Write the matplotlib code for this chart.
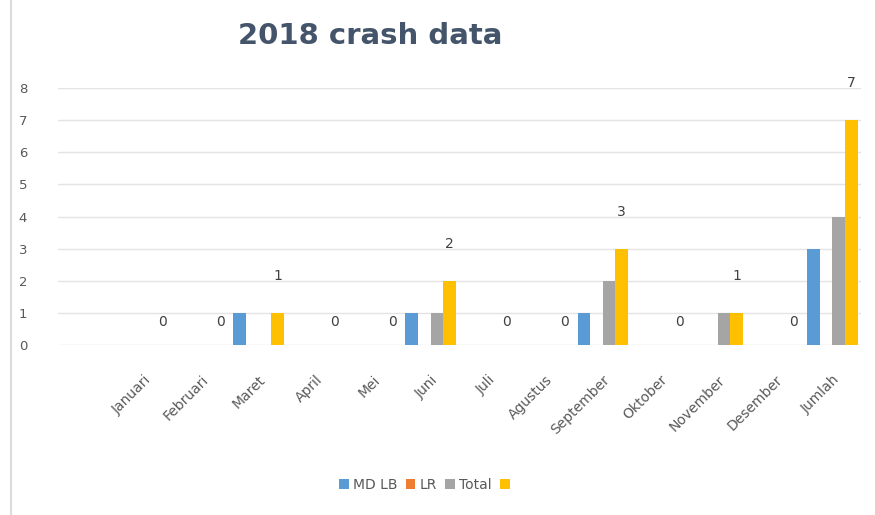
import numpy as np
import matplotlib.pyplot as plt
from matplotlib.lines import Line2D

bulan = ['Januari', 'Februari', 'Maret', 'April', 'Mei', 'Juni', 'Juli',
         'Agustus', 'September', 'Oktober', 'November', 'Desember', 'Jumlah']
md_lb = [0, 0, 1, 0, 0, 1, 0, 0, 1, 0, 0, 0, 3]
lr = [0, 0, 0, 0, 0, 0, 0, 0, 0, 0, 0, 0, 0]
abu = [0, 0, 0, 0, 0, 1, 0, 0, 2, 0, 1, 0, 4]
total = [0, 0, 1, 0, 0, 2, 0, 0, 3, 0, 1, 0, 7]
nama = ['MD LB', 'LR', 'Total', ' ']
warna = ['#5B9BD5', '#ED7D31', '#A5A5A5', '#FFC000']

fig = plt.figure(figsize=(8.75, 5.15), dpi=100)
ax = fig.add_axes([0.066, 0.330, 0.918, 0.499])

x = np.arange(len(bulan))
w = 0.22
seri = [md_lb, lr, abu, total]
bars = []
for k in range(4):
    b = ax.bar(x + (k - 1.5) * w, seri[k], w, color=warna[k], zorder=3)
    bars.append(b)

# label data hanya untuk seri kuning (offset dalam point)
for i, v in enumerate(total):
    off = 16.5 if v == 0 else 26.5
    ax.annotate(str(v), (x[i] + 1.5 * w, v), xytext=(0, off), textcoords='offset points',
                ha='center', va='center', fontsize=10, color='#404040')

ax.set_xlim(-1.5, 12.5)
ax.set_ylim(0, 8)
ax.set_yticks(range(9))
ax.grid(axis='y', color='#e4e4e4', linewidth=1, zorder=0)
for s in ax.spines.values():
    s.set_visible(False)
ax.tick_params(axis='y', length=0, labelsize=9.5, colors='#595959', pad=22)
ax.tick_params(axis='x', length=0, labelsize=10, colors='#595959', pad=20)
ax.set_xticks(x)
ax.set_xticklabels(bulan, rotation=45, ha='right', rotation_mode='anchor')

fig.text(0.423, 0.93, '2018 crash data', ha='center', va='center',
         fontsize=21, fontweight='bold', color='#44546A')

fig.legend(bars, nama, loc='center', bbox_to_anchor=(0.49, 0.058), ncol=4, frameon=False,
           fontsize=10, handlelength=0.7, handleheight=0.7, handletextpad=0.3,
           columnspacing=0.6, labelcolor='#595959')

fig.add_artist(Line2D([0.012, 0.012], [0.0, 1.0], color='#dcdcdc', linewidth=1.5))

fig.savefig('out.png', dpi=100)
